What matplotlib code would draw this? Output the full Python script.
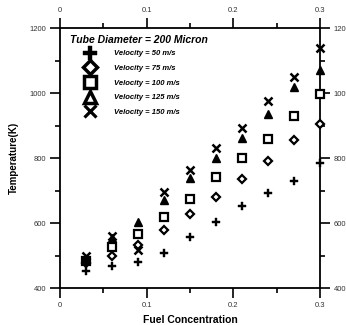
import matplotlib
matplotlib.use('Agg')
import matplotlib.pyplot as plt
from matplotlib.lines import Line2D
from matplotlib.ticker import MultipleLocator

plt.rcParams['font.family'] = ['Liberation Sans', 'DejaVu Sans']

fuel = [0.03, 0.06, 0.09, 0.12, 0.15, 0.18, 0.21, 0.24, 0.27, 0.30]
t_50 = [452, 468, 479, 509, 556, 604, 652, 693, 729, 786]
t_75 = [478, 498, 532, 578, 627, 679, 735, 792, 855, 904]
t_100 = [483, 527, 566, 619, 674, 742, 799, 858, 929, 996]
t_125 = [490, 555, 604, 671, 737, 799, 862, 934, 1017, 1071]
t_150 = [497, 560, 517, 694, 763, 830, 891, 975, 1050, 1137]

labels = ['Velocity = 50 m/s', 'Velocity = 75 m/s', 'Velocity = 100 m/s',
          'Velocity = 125 m/s', 'Velocity = 150 m/s']
series = [t_50, t_75, t_100, t_125, t_150]
markers = ['P', 'D', 's', '^', 'x']

fig = plt.figure(figsize=(3.46, 3.25), dpi=100)
ax = fig.add_axes([0.1734, 0.1138, 0.7514, 0.80])

# plot markers: small, thick edges
plot_style = {
    'P': dict(ms=6, mfc='black', mec='black', mew=0.3),
    'D': dict(ms=4.5, mfc='white', mec='black', mew=1.6),
    's': dict(ms=5.5, mfc='white', mec='black', mew=1.6),
    '^': dict(ms=5.5, mfc='black', mec='black', mew=1.0),
    'x': dict(ms=6, mfc='none', mec='black', mew=1.8),
}
legend_style = {
    'P': dict(ms=10.5, mfc='black', mec='black', mew=0.3),
    'D': dict(ms=7, mfc='white', mec='black', mew=2.5),
    's': dict(ms=9, mfc='white', mec='black', mew=2.5),
    '^': dict(ms=8, mfc='white', mec='black', mew=2.5),
    'x': dict(ms=9, mfc='none', mec='black', mew=2.3),
}

for vals, m in zip(series, markers):
    ax.plot(fuel, vals, linestyle='none', marker=m, clip_on=False, zorder=3,
            **plot_style[m])

ax.set_xlim(0, 0.3)
ax.set_ylim(400, 1200)
ax.xaxis.set_major_locator(MultipleLocator(0.1))
ax.xaxis.set_minor_locator(MultipleLocator(0.05))
ax.yaxis.set_major_locator(MultipleLocator(200))
ax.yaxis.set_minor_locator(MultipleLocator(100))
ax.xaxis.set_major_formatter(matplotlib.ticker.FuncFormatter(lambda v, p: '0' if v == 0 else '%g' % v))

ax.tick_params(which='both', direction='out', top=True, right=True,
               labeltop=True, labelright=True, width=1.2, colors='black',
               labelcolor='#333333', labelsize=5.5)
ax.tick_params(which='major', length=7, pad=3)
ax.tick_params(which='minor', length=3.5)
for sp in ax.spines.values():
    sp.set_linewidth(1.3)

ax.set_xlabel('Fuel Concentration', fontsize=7.5, fontweight='bold')
ax.set_ylabel('Temperature(K)', fontsize=7, fontweight='bold')
ax.xaxis.set_label_coords(0.5, -0.105)
ax.yaxis.set_label_coords(-0.16, 0.5)

ax.text(0.038, 0.952, 'Tube Diameter = 200 Micron', transform=ax.transAxes,
        fontsize=7.5, fontweight='bold', fontstyle='italic', va='center', ha='left')

handles = [Line2D([], [], linestyle='none', marker=m, **legend_style[m]) for m in markers]
leg = ax.legend(handles, labels, loc='upper left', bbox_to_anchor=(0.086, 0.915),
                frameon=False, borderpad=0, borderaxespad=0, handlelength=2,
                handletextpad=2.2, labelspacing=0.95,
                prop=dict(size=5.5, weight='bold', style='italic'))

fig.savefig('out.png', dpi=100)
